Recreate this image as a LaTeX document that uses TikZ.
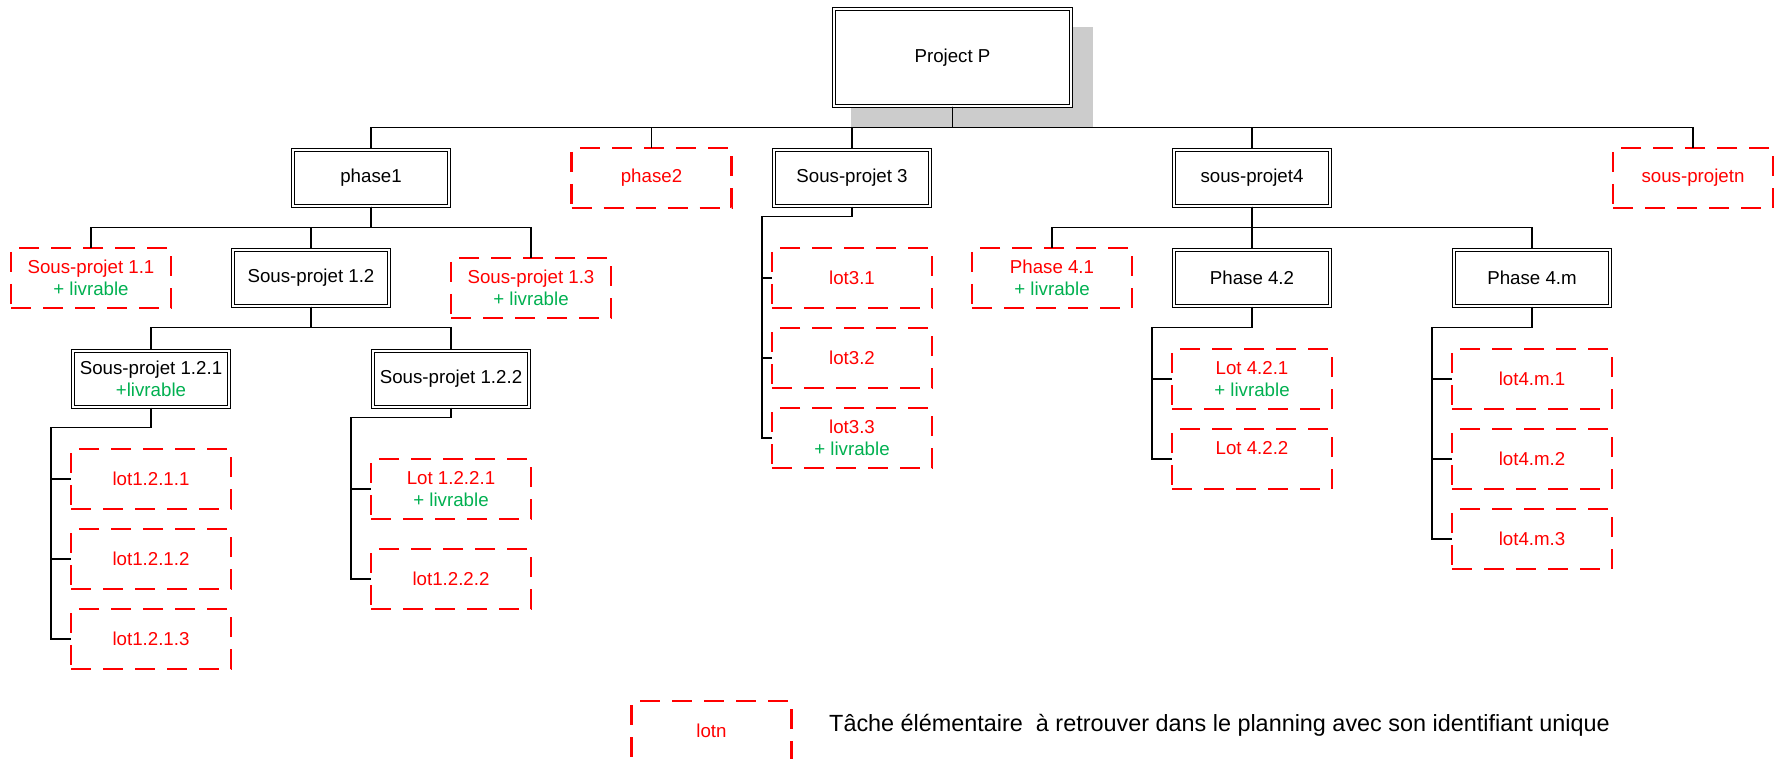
\documentclass[tikz,border=0pt]{standalone}
\usepackage{fontspec}
\setmainfont{Liberation Sans}
\usetikzlibrary{positioning}
\definecolor{lotred}{RGB}{255,0,0}
\definecolor{livgreen}{RGB}{0,176,80}
\definecolor{shadowgray}{RGB}{204,204,204}
\newcommand{\livrable}{\textcolor{livgreen}{+ livrable}}

\begin{document}
\begin{tikzpicture}[
  x=1pt, y=-1pt,
  node distance=20pt,
  every node/.style={font=\fontsize{18.7}{22.5}\selectfont, align=center, inner sep=2pt},
  phase/.style={rectangle, draw=black, line width=1.2pt, double=white, double distance=1.8pt,
                fill=white, minimum width=156pt, minimum height=56pt},
  lot/.style={rectangle, draw=lotred, text=lotred, line width=2.4pt, outer sep=0pt,
              dash pattern=on 20pt off 12pt, minimum width=160pt, minimum height=60pt},
  link/.style={draw=black, line width=1.4pt}
]
\useasboundingbox (0,0) rectangle (1783,759);
\fill[shadowgray] (851,27) rectangle (1093,127);
\node[phase, minimum width=237pt, minimum height=97pt] (proj) at (952.5,57.5) {Project P};
\node[phase] (ph1) at (371,178) {phase1};
\node[lot] (ph2) at (651.5,178) {phase2};
\node[phase] (sp3) at (852,178) {Sous-projet 3};
\node[phase] (sp4) at (1252,178) {sous-projet4};
\node[lot] (spn) at (1693,178) {sous-projetn};
\node[lot] (sp11) at (91,278) {Sous-projet 1.1\\\livrable};
\node[phase] (sp12) at (311,278) {Sous-projet 1.2};
\node[lot] (sp13) at (531,288) {Sous-projet 1.3\\\livrable};
\node[lot] (ph41) at (1052,278) {Phase 4.1\\\livrable};
\node[phase] (ph42) at (1252,278) {Phase 4.2};
\node[phase] (ph4m) at (1532,278) {Phase 4.m};
\node[phase] (sp121) at (151,379) {Sous-projet 1.2.1\\\textcolor{livgreen}{+livrable}};
\node[phase] (sp122) at (451,379) {Sous-projet 1.2.2};
\node[lot] (lot1211) at (151,479) {lot1.2.1.1};
\node[lot, below=of lot1211] (lot1212) {lot1.2.1.2};
\node[lot, below=of lot1212] (lot1213) {lot1.2.1.3};
\node[lot] (lot1221) at (451,489) {Lot 1.2.2.1\\\livrable};
\node[lot, below=30pt of lot1221] (lot1222) {lot1.2.2.2};
\node[lot] (lot31) at (852,278) {lot3.1};
\node[lot, below=of lot31] (lot32) {lot3.2};
\node[lot, below=of lot32] (lot33) {lot3.3\\\livrable};
\node[lot] (lot421) at (1252,379) {Lot 4.2.1\\\livrable};
\node[lot, below=of lot421] (lot422) {Lot 4.2.2\\\mbox{}};
\node[lot] (lot4m1) at (1532,379) {lot4.m.1};
\node[lot, below=of lot4m1] (lot4m2) {lot4.m.2};
\node[lot, below=of lot4m2] (lot4m3) {lot4.m.3};
\node[lot] (lotn) at (711.5,731) {lotn};
\node[anchor=west, font=\fontsize{23.4}{28}\selectfont] (legend) at (827,725)
  {Tâche élémentaire\ \ à retrouver dans le planning avec son identifiant unique};
\draw[link] (proj.south) -- ++(0,21) -| (ph1.north);
\draw[link] (proj.south) -- ++(0,21) -| (ph2.north);
\draw[link] (proj.south) -- ++(0,21) -| (sp3.north);
\draw[link] (proj.south) -- ++(0,21) -| (sp4.north);
\draw[link] (proj.south) -- ++(0,21) -| (spn.north);
\draw[link] (ph1.south) -- ++(0,21) -| (sp11.north);
\draw[link] (ph1.south) -- ++(0,21) -| (sp12.north);
\draw[link] (ph1.south) -- ++(0,21) -| (sp13.north);
\draw[link] (sp12.south) -- ++(0,21) -| (sp121.north);
\draw[link] (sp12.south) -- ++(0,21) -| (sp122.north);
\draw[link] (sp4.south) -- ++(0,21) -| (ph41.north);
\draw[link] (sp4.south) -- ++(0,21) -| (ph42.north);
\draw[link] (sp4.south) -- ++(0,21) -| (ph4m.north);
\draw[link] (sp121.south) -- ++(0,20) -| ([xshift=-20pt]lot1213.west) -- (lot1213.west);
\draw[link] ([xshift=-20pt]lot1211.west) -- (lot1211.west);
\draw[link] ([xshift=-20pt]lot1212.west) -- (lot1212.west);
\draw[link] (sp122.south) -- ++(0,10) -| ([xshift=-20pt]lot1222.west) -- (lot1222.west);
\draw[link] ([xshift=-20pt]lot1221.west) -- (lot1221.west);
\draw[link] (sp3.south) -- ++(0,10) -| ([xshift=-10pt]lot33.west) -- (lot33.west);
\draw[link] ([xshift=-10pt]lot31.west) -- (lot31.west);
\draw[link] ([xshift=-10pt]lot32.west) -- (lot32.west);
\draw[link] (ph42.south) -- ++(0,21) -| ([xshift=-20pt]lot422.west) -- (lot422.west);
\draw[link] ([xshift=-20pt]lot421.west) -- (lot421.west);
\draw[link] (ph4m.south) -- ++(0,21) -| ([xshift=-20pt]lot4m3.west) -- (lot4m3.west);
\draw[link] ([xshift=-20pt]lot4m1.west) -- (lot4m1.west);
\draw[link] ([xshift=-20pt]lot4m2.west) -- (lot4m2.west);
\end{tikzpicture}
\end{document}
